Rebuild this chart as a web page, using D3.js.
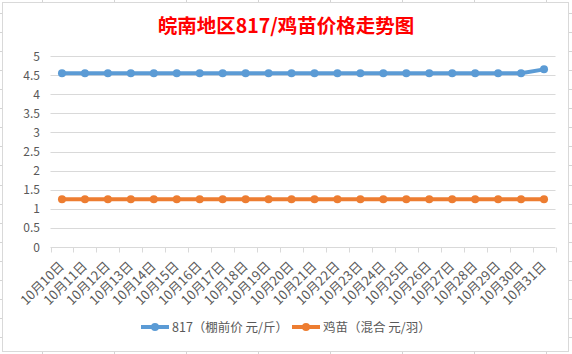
<!DOCTYPE html>
<html><head><meta charset="utf-8">
<script src="https://cdn.jsdelivr.net/npm/d3@7"></script>
<style>html,body{margin:0;padding:0;background:#fff;}svg{display:block;}</style>
</head><body>
<svg id="c" width="572" height="354"></svg>
<script>
const title = "皖南地区817/鸡苗价格走势图";
const categories = ["10月10日","10月11日","10月12日","10月13日","10月14日","10月15日","10月16日","10月17日","10月18日","10月19日","10月20日","10月21日","10月22日","10月23日","10月24日","10月25日","10月26日","10月27日","10月28日","10月29日","10月30日","10月31日"];
const series817 = [4.55,4.55,4.55,4.55,4.55,4.55,4.55,4.55,4.55,4.55,4.55,4.55,4.55,4.55,4.55,4.55,4.55,4.55,4.55,4.55,4.55,4.65];
const seriesChick = [1.25,1.25,1.25,1.25,1.25,1.25,1.25,1.25,1.25,1.25,1.25,1.25,1.25,1.25,1.25,1.25,1.25,1.25,1.25,1.25,1.25,1.25];
const yTicks = [0,0.5,1,1.5,2,2.5,3,3.5,4,4.5,5];
const seriesNames = ["817（棚前价 元/斤）","鸡苗（混合 元/羽）"];
const colors = ["#5B9BD5","#ED7D31"];

const svg = d3.select("#c");
const font = "'Noto Sans CJK SC','Noto Sans',sans-serif";

// spreadsheet grid behind chart
const grid = svg.append("g").attr("stroke","#D4D4D4").attr("stroke-width",1);
for (let k=0;k<8;k++){const x=Math.round(42+72*k)+0.5; grid.append("line").attr("x1",x).attr("x2",x).attr("y1",0).attr("y2",354);}
for (let k=0;k<19;k++){const y=Math.round(13+19.06*k)+0.5; grid.append("line").attr("x1",0).attr("x2",572).attr("y1",y).attr("y2",y);}

svg.append("rect").attr("x",2.5).attr("y",2.5).attr("width",566).attr("height",349)
  .attr("fill","#fff").attr("stroke","#D9D9D9");

svg.append("text").attr("x",286).attr("y",33).attr("text-anchor","middle")
  .attr("font-family",font).attr("font-weight","bold").attr("font-size",19.5)
  .attr("fill","#FF0000").text(title);

const x = d3.scaleBand().domain(categories).range([50.5,555.5]);
const y = d3.scaleLinear().domain([0,5]).range([247,56]);

// gridlines
svg.append("g").selectAll("line").data(yTicks.filter(d=>d>0)).join("line")
  .attr("x1",50.5).attr("x2",555.5)
  .attr("y1",d=>Math.round(y(d))+0.5).attr("y2",d=>Math.round(y(d))+0.5)
  .attr("stroke","#D9D9D9");

// y labels
svg.append("g").selectAll("text").data(yTicks).join("text")
  .attr("x",40).attr("y",d=>y(d)+4.5).attr("text-anchor","end")
  .attr("font-family",font).attr("font-size",12).attr("fill","#595959")
  .text(d=>d);

// x axis
const xa = svg.append("g").attr("transform","translate(0,"+(Math.round(y(0))+0.5)+")");
xa.append("line").attr("x1",50.5).attr("x2",555.5).attr("stroke","#D9D9D9");
const bounds = categories.map(c=>x(c)).concat([x(categories[categories.length-1])+x.bandwidth()]);
xa.selectAll("line.t").data(bounds).join("line").attr("class","t")
  .attr("x1",d=>Math.round(d)+0.5).attr("x2",d=>Math.round(d)+0.5).attr("y1",0).attr("y2",5)
  .attr("stroke","#D9D9D9");
svg.append("g").selectAll("text").data(categories).join("text")
  .attr("transform",d=>"translate("+(x(d)+x.bandwidth()/2+3)+",267) rotate(-45)")
  .attr("text-anchor","end").attr("font-family",font).attr("font-size",13).attr("fill","#595959")
  .text(d=>d);

// series
const line = d3.line().x((d,i)=>x(categories[i])+x.bandwidth()/2).y(d=>y(d));
[series817, seriesChick].forEach((s,k)=>{
  const g = svg.append("g");
  g.append("path").attr("d",line(s)).attr("fill","none").attr("stroke",colors[k]).attr("stroke-width",4).attr("stroke-linejoin","round");
  g.selectAll("circle").data(s).join("circle")
    .attr("cx",(d,i)=>x(categories[i])+x.bandwidth()/2).attr("cy",d=>y(d)).attr("r",4).attr("fill",colors[k]);
});

// legend
const leg = [{x0:141,tx:172},{x0:292,tx:323}];
leg.forEach((l,k)=>{
  const g = svg.append("g");
  g.append("line").attr("x1",l.x0).attr("x2",l.x0+28).attr("y1",327).attr("y2",327).attr("stroke",colors[k]).attr("stroke-width",4);
  g.append("circle").attr("cx",l.x0+14).attr("cy",327).attr("r",4).attr("fill",colors[k]);
  g.append("text").attr("x",l.tx).attr("y",331.5).attr("font-family",font).attr("font-size",12.5).attr("fill","#595959").text(seriesNames[k]);
});
</script>
</body></html>
